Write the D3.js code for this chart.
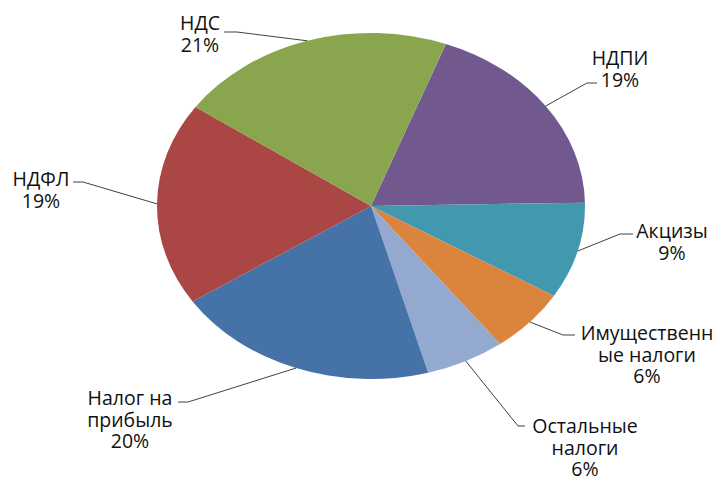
<!DOCTYPE html>
<head>
  <meta charset="utf-8">
  <script src="https://d3js.org/d3.v7.min.js"></script>
  <style>
    body { margin:0; background:#fff; }
    .lbl { font-family: "Open Sans", sans-serif; font-size: 19.5px; fill: #111; }
    .leader { fill: none; stroke: #404040; stroke-width: 1; }
  </style>
</head>
<body>
  <script>
    // data
    var categories = ["НДПИ", "Акцизы", "Имущественные налоги", "Остальные налоги", "Налог на прибыль", "НДФЛ", "НДС"];
    var shares = [19, 9, 6, 6, 20, 19, 21];
    var labelLines = [["НДПИ", "19%"], ["Акцизы", "9%"], ["Имущественн", "ые налоги", "6%"],
                      ["Остальные", "налоги", "6%"], ["Налог на", "прибыль", "20%"], ["НДФЛ", "19%"], ["НДС", "21%"]];
    var colors = ["#71588F", "#4198AF", "#DB843D", "#93A9CF", "#4572A7", "#AA4643", "#89A54E"];

    var width = 717, height = 478;
    var cx = 371, cy = 206, rx = 214, ry = 173;
    var startDeg = 20.5;

    // label placement: text centre x, first line y, elbow x, end x, leader y
    var labelPos = [
      {tx: 620, ty: 57,  ex: 587, hx: 597, hy: 83},
      {tx: 672, ty: 230, ex: 620, hx: 633, hy: 234},
      {tx: 647, ty: 332, ex: 563, hx: 575, hy: 335},
      {tx: 585, ty: 425, ex: 518, hx: 525, hy: 426},
      {tx: 130, ty: 397, ex: 188, hx: 178, hy: 402},
      {tx: 41,  ty: 178, ex: 83,  hx: 73,  hy: 182},
      {tx: 200, ty: 22,  ex: 237, hx: 224, hy: 32}
    ];

    var svg = d3.select('body').append('svg')
      .attr('width', width).attr('height', height);

    var pie = d3.pie().sort(null).value(d => d)
      .startAngle(startDeg * Math.PI / 180)
      .endAngle(startDeg * Math.PI / 180 + 2 * Math.PI);
    var arcs = pie(shares);

    var arc = d3.arc().innerRadius(0).outerRadius(ry);

    var pieG = svg.append('g')
      .attr('transform', `translate(${cx},${cy}) scale(${rx / ry},1)`);

    pieG.selectAll('path.slice')
      .data(arcs)
      .enter().append('path')
      .attr('class', 'slice')
      .attr('d', arc)
      .attr('fill', (d, i) => colors[i]);

    // leader lines from slice edge at mid angle
    function edgePoint(d) {
      var a = (d.startAngle + d.endAngle) / 2;
      return [cx + rx * Math.sin(a), cy - ry * Math.cos(a)];
    }

    svg.selectAll('path.leader')
      .data(arcs)
      .enter().append('path')
      .attr('class', 'leader')
      .attr('d', function(d, i) {
        var p = edgePoint(d), L = labelPos[i];
        return d3.line()([p, [L.ex, L.hy], [L.hx, L.hy]]);
      });

    var lblG = svg.selectAll('text.lbl')
      .data(arcs)
      .enter().append('text')
      .attr('class', 'lbl')
      .attr('text-anchor', 'middle')
      .attr('x', (d, i) => labelPos[i].tx)
      .attr('y', (d, i) => labelPos[i].ty)
      .attr('dominant-baseline', 'central');

    lblG.each(function(d, i) {
      var t = d3.select(this);
      labelLines[i].forEach(function(s, j) {
        t.append('tspan')
          .attr('x', labelPos[i].tx)
          .attr('dy', j === 0 ? 0 : 21.7)
          .text(s);
      });
    });
  </script>
</body>
